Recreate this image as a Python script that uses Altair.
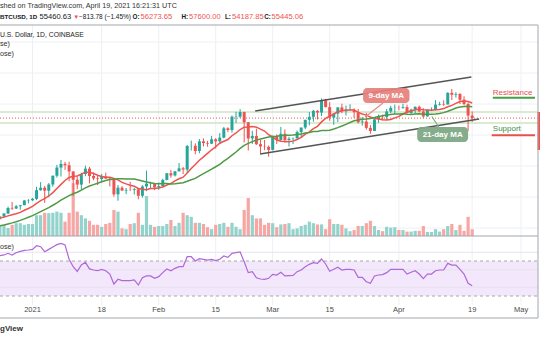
import altair as alt
import pandas as pd

FONT = "Liberation Sans"
TEAL, RED = "#26a69a", "#ef5350"
VTEAL, VRED = "#93d3cc", "#f6a6a3"

# ---- daily OHLC, Dec 24 2020 .. Apr 19 2021 ----
open_ = [23240, 23730, 24700, 26490, 26280, 27040, 27360, 28890,
         28990, 29410, 32200, 33000, 32030, 34030, 36860, 39500, 40670, 40240, 38240, 35570, 34000, 37400, 39150, 36770,
         36000, 35800, 36630, 35900, 35480, 30850, 33000, 32100, 32300, 32260, 32500, 30400, 33400, 34200, 34300,
         33100, 33500, 35500, 37660, 36950, 38300, 39250, 38850, 46450, 46500, 44850, 47970, 47400, 47200, 48600, 47950,
         49150, 52150, 51600, 55800, 55900, 57400, 54100, 48900, 49700, 47050, 46300, 46200,
         45200, 49600, 48400, 50400, 48400, 48800, 48900, 50950, 52400, 54900, 55850, 57800, 57250, 61200, 59000, 55600,
         56900, 58900, 57650, 58050, 58100, 57350, 54100, 54350, 52300, 51300, 55050, 55850, 55800, 57600, 58750,
         58800, 58750, 59000, 57100, 58200, 59100, 57600, 56000, 58000, 58100, 59800, 60000, 59850, 63600, 62980, 63200,
         61400, 60000, 56270]
high = [23790, 24780, 26870, 28400, 27400, 27370, 28990, 29300,
        29680, 33300, 34800, 33600, 34500, 36940, 40370, 41950, 41350, 41400, 38300, 36600, 37850, 40100, 39700, 37950,
        36850, 37450, 37850, 36400, 35600, 33850, 33480, 32900, 34900, 32900, 32550, 33800, 38500, 34900, 34350,
        34700, 35900, 37700, 38700, 38300, 40950, 39700, 46800, 48200, 47300, 48700, 48900, 48100, 49700, 49000, 50600,
        52600, 52500, 56300, 57500, 58350, 57500, 54200, 51350, 52050, 48400, 48400, 46600,
        49800, 50200, 52600, 51800, 49400, 49200, 51450, 52400, 54900, 57400, 58100, 58000, 61800, 61700, 60600, 56950,
        58950, 60100, 59500, 59900, 58600, 58400, 55850, 57200, 53250, 55100, 56600, 56600, 58400, 59400, 59800,
        59500, 60100, 59750, 58500, 59200, 59500, 58650, 58150, 58900, 61250, 60700, 61200, 63800, 64850, 63800, 63550,
        62500, 60450, 57600]
low = [22700, 23420, 24500, 25820, 26100, 25880, 27330, 27970,
       28700, 29000, 32000, 28100, 29900, 33300, 36300, 36600, 38750, 35100, 30300, 32500, 32400, 36700, 34400, 35400,
       33850, 34700, 35900, 33400, 30100, 28800, 31900, 30900, 31900, 30800, 29250, 29800, 31900, 32800, 32200,
       32300, 33400, 35400, 36200, 36600, 38200, 37400, 37800, 45000, 43800, 44100, 46300, 46250, 47050, 45600, 47100,
       48900, 50900, 50750, 53900, 55500, 47600, 45000, 47100, 46800, 44100, 45100, 43000,
       45000, 47100, 48100, 47500, 46300, 47100, 48900, 49300, 51900, 53100, 54300, 55000, 56100, 58900, 54600, 53300,
       54200, 57000, 56300, 57800, 55500, 53700, 53000, 51700, 50400, 51300, 53950, 54700, 54900, 57000, 56800,
       57950, 58450, 56900, 56600, 56800, 57300, 55500, 55900, 57700, 57900, 59500, 59400, 59850, 61300, 62050, 60000,
       59600, 51300, 54190]
close = [23730, 24700, 26490, 26280, 27040, 27360, 28890, 28990,
         29410, 32200, 33000, 32030, 34030, 36860, 39500, 40670, 40240, 38240, 35570, 34000, 37400, 39150, 36770, 36000,
         35800, 36630, 35900, 35480, 30850, 33000, 32100, 32300, 32260, 32500, 30400, 33400, 34300, 34300, 33100,
         33500, 35500, 37660, 36950, 38300, 39250, 38850, 46450, 46500, 44850, 47970, 47400, 47200, 48600, 47950, 49150,
         52150, 51600, 55900, 55900, 57400, 54100, 48900, 49700, 47050, 46300, 46200, 45200,
         49600, 48400, 50400, 48400, 48800, 48900, 50950, 52400, 54900, 55850, 57800, 57250, 61200, 59000, 55600, 56900,
         58900, 57650, 58050, 58100, 57350, 54100, 54350, 52300, 51300, 55050, 55850, 55800, 57600, 58750, 58800,
         58750, 59000, 57100, 58200, 59100, 57600, 56000, 58100, 58100, 59800, 60000, 59850, 63600, 62980, 63200, 61400,
         60000, 56260, 55445]
ma9 = [23127, 23499, 23909, 24259, 24613, 25044, 25728, 26302,
       26988, 27929, 28851, 29467, 30328, 31419, 32768, 34077, 35327, 36308, 36682, 36793, 37390, 37959, 37949, 37560,
       37019, 36618, 36358, 36348, 35998, 35509, 34726, 34229, 33813, 33447, 32754, 32477, 32346, 32729, 32740,
       32896, 33251, 33851, 34346, 35223, 35873, 36379, 37729, 39218, 40479, 41864, 42947, 44086, 45230, 46197, 47341,
       47974, 48541, 49769, 50650, 51761, 52528, 52561, 52756, 52522, 51872, 51272, 50083,
       49383, 48383, 47972, 47917, 47817, 48022, 48539, 49228, 50306, 51000, 52044, 52806, 54228, 55361, 56106, 56767,
       57489, 57794, 58039, 58072, 58083, 57294, 56778, 56411, 55789, 55361, 55161, 54911, 54856, 55011, 55533,
       56022, 56767, 57411, 57761, 58122, 58322, 58144, 58072, 57994, 58111, 58222, 58528, 59128, 59559, 60181, 60781,
       60992, 60788, 60304]
ma21 = [20681, 20970, 21319, 21649, 22023, 22454, 22946, 23458,
        23999, 24637, 25296, 25903, 26598, 27337, 28132, 28967, 29748, 30450, 31061, 31546, 32220, 32955, 33530, 33982,
        34436, 34892, 35299, 35613, 35702, 35872, 35868, 35834, 35845, 35772, 35465, 35174, 34871, 34588, 34343,
        34245, 34316, 34329, 34224, 34297, 34451, 34597, 35064, 35569, 36015, 36830, 37516, 38235, 39011, 39759, 40551,
        41587, 42454, 43482, 44511, 45668, 46649, 47287, 47860, 48341, 48722, 49053, 49356,
        49506, 49596, 49861, 49881, 49948, 50029, 50140, 50352, 50626, 50802, 51098, 51162, 51414, 51490, 51562, 51943,
        52381, 52886, 53445, 54012, 54590, 54805, 55088, 55179, 55317, 55614, 55945, 56176, 56424, 56607, 56748,
        56793, 56876, 56681, 56643, 56810, 56843, 56705, 56726, 56729, 56810, 56936, 57210, 57650, 58159, 58725, 59028,
        59225, 59247, 59145]
volume = [25, 28, 20, 28, 32, 32, 28, 30,
          30, 52, 52, 58, 57, 58, 61, 58, 36, 58, 132, 61, 52, 44, 38, 28, 28, 23, 30, 33, 65, 61, 19, 17, 30, 32, 58,
          28, 100, 28, 23,
          25, 25, 30, 40, 25, 33, 58, 52, 48, 33, 33, 30, 22, 17, 28, 30, 33, 23, 33, 23, 17, 65, 95, 52, 44, 44, 28, 33,
          32, 22, 29, 30, 32, 17, 19, 25, 28, 36, 32, 29, 29, 17, 42, 30, 30, 28, 19, 12, 15, 25, 25, 32, 38, 25, 15,
          12, 23, 21, 22,
          15, 15, 11, 11, 13, 13, 25, 10, 10, 17, 11, 17, 25, 30, 15, 28, 13, 48, 17]
rsi = [76, 76.9, 78.8, 76.9, 79.5, 81, 82.2, 82.6,
       83.3, 87.5, 86.3, 80.6, 83.3, 86, 88.7, 90.2, 88.3, 72, 63.5, 58.1, 65.5, 68.5, 61, 59.7, 58.9, 60.5, 58.9,
       55.1, 43.7, 49.1, 47.5, 47.5, 47.5, 48.3, 42.6, 50.9, 52.9, 52.9, 50.2,
       52.1, 56.7, 60.9, 58.9, 61.6, 63.5, 63.5, 74.9, 74.9, 70, 72.7, 71.9, 71.1, 71.9, 70.4, 71.9, 75.7, 74.2, 78.8,
       79.5, 80.3, 69.2, 56.7, 57.8, 50.9, 49.4, 49.1, 50.2,
       54.8, 54, 57.1, 52.9, 53.3, 53.6, 57.8, 59.7, 63.5, 66.2, 68.1, 67.3, 72.3, 66.6, 58.2, 60.5, 62.8, 59.7, 60.5,
       60.5, 59.7, 51.3, 51.3, 46.3, 44.5, 52.9, 54, 54.4, 56.7, 60.5, 60.5,
       60.5, 60.5, 55.1, 57.1, 58.9, 55.1, 49.8, 55.1, 55.1, 58.9, 59.7, 59.7, 67.3, 65.4, 65.4, 60.5, 55.1, 44.5, 41.8]

for arr in (open_, high, low, close, ma9, ma21, volume, rsi):
    assert len(arr) == 117, len(arr)

tick_days = [0, 17, 31, 45, 59, 73, 90, 108, 120]
tick_labels = ["2021", "18", "Feb", "15", "Mar", "15", "Apr", "19", "May"]
price_grid = [20000, 30000, 40000, 50000, 60000, 70000, 80000]
rsi_grid = [80, 60, 40]
rsi_bands = [70, 30]
level_lines = [57419, 53871]
last_price = [55445]

# channel (day, price) endpoints
ch_d1, ch_p1 = [54.7, 55.9], [57742, 43871]
ch_d2, ch_p2 = [107.8, 109.7], [68710, 55161]

dates = pd.date_range("2020-12-24", periods=117, freq="D")
df = pd.DataFrame({"open": open_, "high": high, "low": low, "close": close,
                   "ma9": ma9, "ma21": ma21, "volume": volume, "rsi": rsi})
df["day"] = (dates - pd.Timestamp("2021-01-01")).days
df["zero"] = 0
up = df["close"] >= df["open"]
df["cc"] = [TEAL if u else RED for u in up]
df["vc"] = [VTEAL if u else VRED for u in up]

XS = alt.Scale(domain=[-6.75, 123.43], nice=False, zero=False)
PS = alt.Scale(domain=[-16129.0, 93548.4], nice=False, zero=False)
VS = alt.Scale(domain=[-260, 590], nice=False, zero=False)
RS = alt.Scale(domain=[-20.2857, 368.2857], nice=False, zero=False)


def X(f):
    return alt.X(f, type="quantitative", scale=XS, axis=None)


def Y(f, s):
    return alt.Y(f, type="quantitative", scale=s, axis=None)


def one(**kw):
    return alt.Chart(pd.DataFrame({k: [v] for k, v in kw.items()}))


def label(text, x, y, size=7.5, color="#131722", weight="normal", align="left"):
    return one(t=text).mark_text(align=align, baseline="middle", fontSize=size, font=FONT,
                                 fontWeight=weight, color=color).encode(
        x=alt.value(x), y=alt.value(y), text="t:N")


def dlabel(text, d, p, size=8, color="white", weight="bold", align="center"):
    return one(t=text, d=d, p=p).mark_text(align=align, baseline="middle", fontSize=size, font=FONT,
                                           fontWeight=weight, color=color).encode(
        x=X("d"), y=Y("p", PS), text="t:N")


GRID = "#edf0f3"
FRAME = "#a3a6ad"
layers = []

# grids
layers.append(alt.Chart(pd.DataFrame({"d": tick_days})).mark_rule(color=GRID, strokeWidth=1).encode(
    x=X("d"), y=alt.value(25), y2=alt.value(305)))
layers.append(alt.Chart(pd.DataFrame({"p": price_grid})).mark_rule(color=GRID, strokeWidth=1).encode(
    y=Y("p", PS), x=alt.value(0), x2=alt.value(538)))

# RSI pane
layers.append(one(a=70, b=30).mark_rect(color="#f3e7fb").encode(
    x=alt.value(0), x2=alt.value(538), y=Y("a", RS), y2="b"))
layers.append(alt.Chart(pd.DataFrame({"r": rsi_grid})).mark_rule(color="#e6e2ee", strokeWidth=1).encode(
    y=Y("r", RS), x=alt.value(0), x2=alt.value(538)))
layers.append(alt.Chart(pd.DataFrame({"r": rsi_bands})).mark_rule(color="#a8a8a8", strokeWidth=1,
                                                                  strokeDash=[3, 3]).encode(
    y=Y("r", RS), x=alt.value(0), x2=alt.value(538)))
layers.append(alt.Chart(df).mark_line(color="#ae68d8", strokeWidth=1.2).encode(x=X("day"), y=Y("rsi", RS)))

# volume
layers.append(alt.Chart(df).mark_bar(width=3.2).encode(
    x=X("day"), y=Y("volume", VS), y2="zero", color=alt.Color("vc:N", scale=None)))

# horizontal levels
layers.append(alt.Chart(pd.DataFrame({"p": level_lines})).mark_rule(color="#cfe4c5", strokeWidth=1.5).encode(
    y=Y("p", PS), x=alt.value(0), x2=alt.value(538)))
layers.append(alt.Chart(pd.DataFrame({"p": last_price})).mark_rule(color=RED, strokeWidth=1,
                                                                   strokeDash=[1, 2]).encode(
    y=Y("p", PS), x=alt.value(0), x2=alt.value(538)))

# candles
layers.append(alt.Chart(df).mark_rule(strokeWidth=1).encode(
    x=X("day"), y=Y("low", PS), y2="high", color=alt.Color("cc:N", scale=None)))
layers.append(alt.Chart(df).mark_bar(width=3).encode(
    x=X("day"), y=Y("open", PS), y2="close", color=alt.Color("cc:N", scale=None)))

# moving averages
layers.append(alt.Chart(df).mark_line(color="#f0524d", strokeWidth=1.5).encode(x=X("day"), y=Y("ma9", PS)))
layers.append(alt.Chart(df).mark_line(color="#4e9a45", strokeWidth=1.5).encode(x=X("day"), y=Y("ma21", PS)))

# channel
layers.append(alt.Chart(pd.DataFrame({"d1": ch_d1, "p1": ch_p1, "d2": ch_d2, "p2": ch_p2})).mark_rule(
    color="#555555", strokeWidth=1.6).encode(x=X("d1"), y=Y("p1", PS), x2="d2", y2="p2"))

# annotations
layers.append(one(d1=86.1, p1=60320, d2=81.7, p2=55806).mark_rule(color="#e88a86", strokeWidth=1.2).encode(
    x=X("d1"), y=Y("p1", PS), x2="d2", y2="p2"))
layers.append(one(d1=81.2, d2=92.6, p1=60320, p2=65160).mark_rect(color="#e57f7b", cornerRadius=4,
                                                                  opacity=0.92).encode(
    x=X("d1"), x2="d2", y=Y("p1", PS), y2="p2"))
layers.append(dlabel("9-day MA", 86.9, 62740))
layers.append(one(d1=98.1, p1=55968, d2=99.8, p2=52581).mark_rule(color="#7fa985", strokeWidth=1.2).encode(
    x=X("d1"), y=Y("p1", PS), x2="d2", y2="p2"))
layers.append(one(d1=94.5, d2=107.0, p1=47742, p2=52581).mark_rect(color="#7fa985", cornerRadius=4,
                                                                   opacity=0.95).encode(
    x=X("d1"), x2="d2", y=Y("p1", PS), y2="p2"))
layers.append(dlabel("21-day MA", 100.75, 50160))

layers.append(dlabel("Resistance", 113.07, 63548, size=8, color="#e8504c", weight="normal", align="left"))
layers.append(one(d1=113.07, d2=123.43, p=62032).mark_rule(color="#43a047", strokeWidth=2).encode(
    x=X("d1"), x2="d2", y=Y("p", PS)))
layers.append(dlabel("Support", 113.07, 51935, size=8, color="#3f8f45", weight="normal", align="left"))
layers.append(one(d1=112.8, d2=123.43, p=49903).mark_rule(color="#e8504c", strokeWidth=2).encode(
    x=X("d1"), x2="d2", y=Y("p", PS)))
layers.append(one(a=1).mark_rect(color=RED).encode(
    x=alt.value(537.5), x2=alt.value(540), y=alt.value(112), y2=alt.value(150)))

# frame
for (x1, x2, y1, y2) in [(0, 538, 25, 25), (0, 538, 236, 236), (0, 538, 318, 318), (538, 538, 25, 318)]:
    layers.append(one(a=1).mark_rule(color=FRAME, strokeWidth=1).encode(
        x=alt.value(x1), x2=alt.value(x2), y=alt.value(y1), y2=alt.value(y2)))

# date labels
layers.append(alt.Chart(pd.DataFrame({"d": tick_days, "t": tick_labels})).mark_text(
    baseline="middle", align="center", fontSize=7.5, font=FONT, color="#4a4a4a").encode(
    x=X("d"), y=alt.value(310), text="t:N"))

# header texts
layers += [
    label("shed on TradingView.com, April 19, 2021 16:21:31 UTC", 0, 6, size=7.2, color="#333333"),
    label("BTCUSD, 1D", 0, 17, size=6.2, weight="bold"),
    label("55460.63", 39.5, 17, size=7.6),
    label("▼", 73.2, 17, size=6, color=RED),
    label("\u2212813.78 (\u22121.45%)", 79, 17, size=6.5),
    label("O:", 132.5, 17, size=6.3, weight="bold"),
    label("56273.65", 140.5, 17, size=7.6, color=RED),
    label("H:", 181.5, 17, size=6.3, weight="bold"),
    label("57600.00", 189, 17, size=7.6, color=RED),
    label("L:", 225, 17, size=6.3, weight="bold"),
    label("54187.85", 232, 17, size=7.6, color=RED),
    label("C:", 264.3, 17, size=6.3, weight="bold"),
    label("55445.06", 271.5, 17, size=7.6, color=RED),
    label("U.S. Dollar, 1D, COINBASE", 0, 35, size=6.8, color="#222222"),
    label("se)", 0, 44, size=7.2, color="#333333"),
    label("ose)", 0, 54, size=7.2, color="#333333"),
    label("ose)", 0, 247, size=7.2, color="#333333"),
    label("gView", 0, 329, size=8, color="#333333", weight="bold"),
]

chart = alt.layer(*layers).resolve_scale(y="independent").properties(
    width=540, height=340, autosize=alt.AutoSizeParams(type="none"), padding=0,
    background="white").configure_view(stroke=None)

chart.save("out.html", embed_options={"renderer": "svg", "actions": False})
